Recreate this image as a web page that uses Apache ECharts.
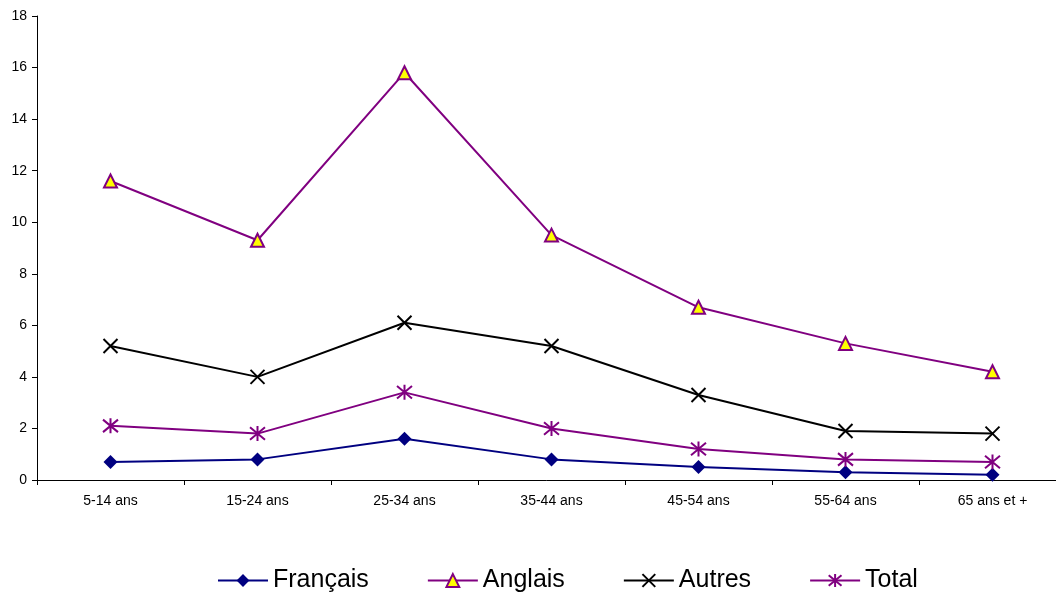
<!DOCTYPE html>
<html><head><meta charset="utf-8">
<script src="https://cdn.jsdelivr.net/npm/echarts@6/dist/echarts.min.js"></script>
<style>html,body{margin:0;padding:0;background:#fff}#c{width:1056px;height:593px}</style>
</head><body><div id="c"></div>
<script>
const categories = ['5-14 ans','15-24 ans','25-34 ans','35-44 ans','45-54 ans','55-64 ans','65 ans et +'];
const francais = [0.7, 0.8, 1.6, 0.8, 0.5, 0.3, 0.2];
const anglais = [11.6, 9.3, 15.8, 9.5, 6.7, 5.3, 4.2];
const autres = [5.2, 4.0, 6.1, 5.2, 3.3, 1.9, 1.8];
const total = [2.1, 1.8, 3.4, 2.0, 1.2, 0.8, 0.7];

const chart = echarts.init(document.getElementById('c'));
const font = 'Liberation Sans, Arial, sans-serif';
chart.setOption({
  animation: false,
  textStyle: {fontFamily: font},
  grid: {left: 37, top: 16, bottom: 113, right: -10, outerBoundsMode: 'none', containLabel: false},
  legend: {
    top: 563, left: 212, itemGap: 58, itemWidth: 50, itemHeight: 16,
    textStyle: {fontSize: 25, color: '#000', fontFamily: font},
    data: ['Français','Anglais','Autres','Total']
  },
  xAxis: {
    type: 'category', data: categories, boundaryGap: true,
    axisLine: {lineStyle: {color: '#000', width: 1}},
    axisTick: {show: true, length: 5, lineStyle: {color: '#000'}},
    axisLabel: {color: '#000', fontSize: 14, margin: 14, interval: 0}
  },
  yAxis: {
    type: 'value', min: 0, max: 18, interval: 2,
    axisLine: {show: true, lineStyle: {color: '#000', width: 1}},
    axisTick: {show: true, length: 5, lineStyle: {color: '#000'}},
    axisLabel: {color: '#000', fontSize: 14, margin: 10},
    splitLine: {show: false}
  },
  series: [
    {name: 'Français', type: 'line', data: francais, symbol: 'diamond', symbolSize: 14,
     lineStyle: {color: '#000080', width: 2}, itemStyle: {color: '#000080'}},
    {name: 'Anglais', type: 'line', data: anglais, symbol: 'triangle', symbolSize: 13,
     lineStyle: {color: '#800080', width: 2}, itemStyle: {color: '#ffff00', borderColor: '#800080', borderWidth: 2}},
    {name: 'Autres', type: 'line', data: autres, symbol: 'path://M0,0L10,10M10,0L0,10', symbolSize: 14,
     lineStyle: {color: '#000', width: 2}, itemStyle: {color: '#000', borderColor: '#000', borderWidth: 2}},
    {name: 'Total', type: 'line', data: total, symbol: 'path://M0,0L10,10M10,0L0,10M5,-1L5,11', symbolSize: 15,
     lineStyle: {color: '#800080', width: 2}, itemStyle: {color: '#800080', borderColor: '#800080', borderWidth: 2}}
  ]
});
</script></body></html>
